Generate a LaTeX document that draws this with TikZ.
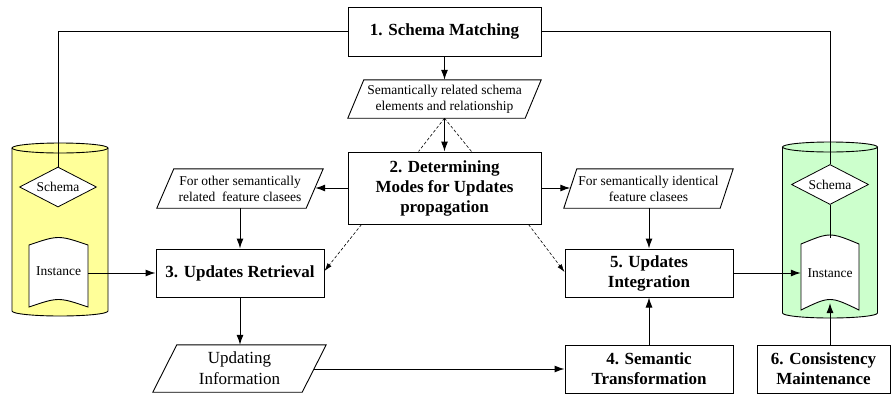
\documentclass[tikz,border=0pt]{standalone}
\usepackage{fontspec}
\setmainfont{Liberation Serif}
\usetikzlibrary{arrows.meta,shapes.geometric}
\definecolor{cylY}{RGB}{255,255,153}
\definecolor{cylG}{RGB}{204,255,204}
\tikzset{
  x=1pt,y=1pt,
  procbox/.style={draw,line width=1pt,inner sep=0pt,align=center,font=\fontsize{17}{20}\selectfont\bfseries},
  paratext/.style={inner sep=0pt,align=center,font=\fontsize{13.5}{16}\selectfont},
  paraline/.style={line width=0.9pt},
  arr/.style={line width=1pt,-{Latex[length=10pt,width=7pt]}},
  darr/.style={line width=0.6pt,dash pattern=on 3pt off 2pt,-{Latex[length=8pt,width=5pt]}},
  dline/.style={line width=0.6pt,dash pattern=on 3pt off 2pt},
  thin line/.style={line width=0.8pt},
  schemadia/.style={diamond,aspect=2,draw,line width=0.8pt,fill=white,inner sep=0pt,minimum width=77pt,minimum height=40pt,font=\fontsize{13.5}{16}\selectfont},
  insttext/.style={inner sep=0pt,minimum width=58pt,font=\fontsize{13.5}{16}\selectfont},
}
\begin{document}
\begin{tikzpicture}
\useasboundingbox (0,0) rectangle (891,-394);

% ---------- cylinders ----------
% left (yellow)
\fill[cylY] (12,-148) -- (12,-311) arc[start angle=180,end angle=360,x radius=48,y radius=5] -- (108,-148) arc[start angle=0,end angle=180,x radius=48,y radius=5] -- cycle;
\draw[line width=0.9pt] (12,-148) -- (12,-311) arc[start angle=180,end angle=360,x radius=48,y radius=5] -- (108,-148);
\draw[line width=0.9pt] (60,-148) ellipse[x radius=48,y radius=5];
% right (green)
\fill[cylG] (782.5,-147) -- (782.5,-313) arc[start angle=180,end angle=360,x radius=47.5,y radius=5] -- (877.5,-147) arc[start angle=0,end angle=180,x radius=47.5,y radius=5] -- cycle;
\draw[line width=0.9pt] (782.5,-147) -- (782.5,-313) arc[start angle=180,end angle=360,x radius=47.5,y radius=5] -- (877.5,-147);
\draw[line width=0.9pt] (830,-147) ellipse[x radius=47.5,y radius=5];

% ---------- boxes ----------
\node[procbox,minimum width=193pt,minimum height=49pt] (b1) at (444.5,-31.5) {1. Schema Matching};
\node[procbox,minimum width=193pt,minimum height=72pt] (b2) at (444.5,-188) {2. Determining\\Modes for Updates\\propagation};
\node[procbox,minimum width=168pt,minimum height=48pt] (b3) at (240,-273) {3. Updates Retrieval};
\node[procbox,minimum width=168pt,minimum height=48pt] (b5) at (649,-273) {5. Updates\\Integration};
\node[procbox,minimum width=168pt,minimum height=48pt] (b4) at (649,-369) {4. Semantic\\Transformation};
\node[procbox,minimum width=133pt,minimum height=48pt] (b6) at (823.5,-369) {6. Consistency\\Maintenance};

% ---------- parallelograms ----------
\node[paratext,minimum width=193pt,minimum height=38pt] (p1) at (444.5,-99) {Semantically related schema\\elements and relationship};
\draw[paraline] (p1.south west) -- ([xshift=-16pt]p1.south east) -- (p1.north east) -- ([xshift=16pt]p1.north west) -- cycle;

\node[paratext,minimum width=166pt,minimum height=39pt] (p2) at (240,-188.5) {For other semantically\\related~ feature clasees};
\draw[paraline] (p2.south west) -- ([xshift=-17pt]p2.south east) -- (p2.north east) -- ([xshift=17pt]p2.north west) -- cycle;

\node[paratext,minimum width=169pt,minimum height=39pt] (p3) at (648.5,-188.5) {For semantically identical\\feature clasees};
\draw[paraline] (p3.south west) -- ([xshift=-13pt]p3.south east) -- (p3.north east) -- ([xshift=13pt]p3.north west) -- cycle;

\node[inner sep=0pt,align=center,font=\fontsize{17}{21}\selectfont,minimum width=173pt,minimum height=47pt] (p4) at (239.5,-368.5) {Updating\\Information};
\draw[paraline] (p4.south west) -- ([xshift=-24pt]p4.south east) -- (p4.north east) -- ([xshift=24pt]p4.north west) -- cycle;

% ---------- instances ----------
\draw[line width=0.9pt,fill=white] (29,-245) .. controls (58.5,-235) .. (88,-245) -- (88,-307) .. controls (58.5,-297) .. (29,-307) -- cycle;
\node[insttext,minimum width=59pt] (inL) at (58.5,-271) {Instance};

\draw[line width=0.9pt,fill=white] (801,-244) .. controls (830,-232) .. (859,-244) -- (859,-310) .. controls (830,-296) .. (801,-310) -- cycle;
\node[insttext] (inR) at (830,-273) {Instance};
\coordinate (inRtop) at (830,-238);
\coordinate (inRbot) at (830,-303);

% ---------- diamonds ----------
\node[schemadia] (dL) at (58,-187) {Schema};
\node[schemadia] (dR) at (830,-184.5) {Schema};

% ---------- connectors ----------
\draw[thin line] (b1.west) -| (dL.north);
\draw[thin line] (b1.east) -| (dR.north);
\draw[thin line] (dR.south) -- (inRtop);

\draw[arr] (b1.south) -- (p1.north);
\draw[arr] (p1.south) -- (b2.north);
\draw[dline] (p1.south) -- ([xshift=-26pt]b2.north);
\draw[dline] (p1.south) -- ([xshift=27pt]b2.north);

\draw[arr,shorten >=-8pt] (b2.west) -- (b2.west -| p2.east);
\draw[arr,shorten >=-6.5pt] (b2.east) -- (b2.east -| p3.west);

\draw[arr] (p2.south) -- (b3.north);
\draw[arr] (p3.south -| b5.north) -- (b5.north);

\draw[arr] (inL.east |- b3.west) -- (b3.west);
\draw[darr] ([xshift=14pt]b2.south west) -- ([yshift=2pt]b3.east);
\draw[darr] ([xshift=-13pt]b2.south east) -- ([yshift=1pt]b5.west);

\draw[arr] (b3.south) -- (b3.south |- p4.north);
\draw[arr,shorten <=-12.3pt] (b4.west -| p4.east) -- (b4.west);
\draw[arr] (b4.north) -- (b5.south);
\draw[arr] (b5.east) -- (inR.west);
\draw[arr] (b6.north -| inRbot) -- (inRbot);
\end{tikzpicture}
\end{document}
